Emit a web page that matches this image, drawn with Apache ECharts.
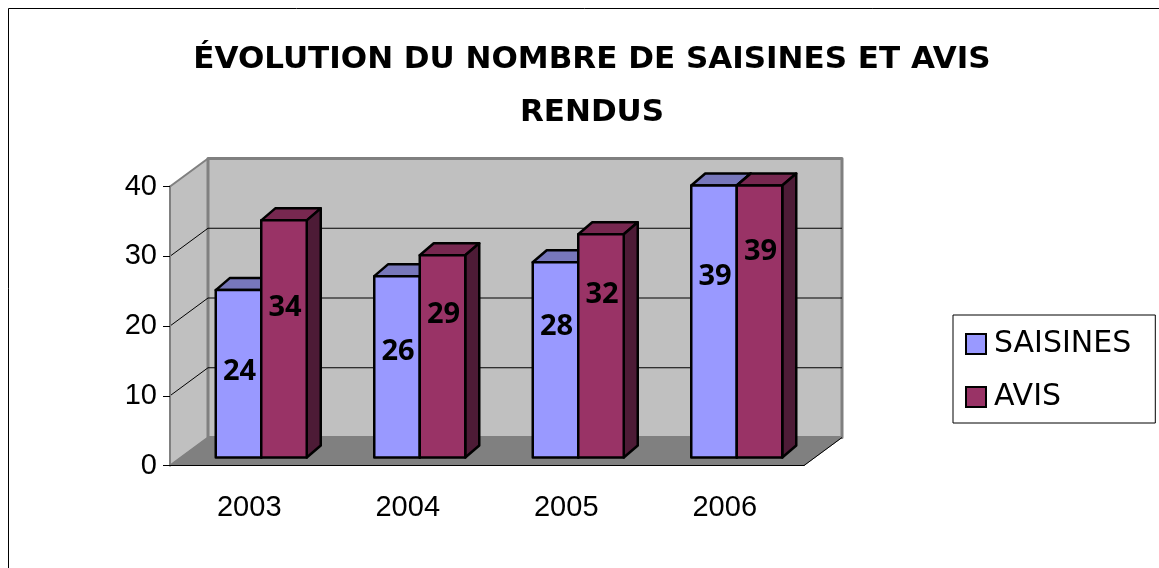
<!DOCTYPE html>
<html>
<head>
<meta charset="utf-8">
<title>Saisines et avis</title>
<script src="https://cdn.jsdelivr.net/npm/echarts@6/dist/echarts.min.js"></script>
<style>
html, body { margin: 0; padding: 0; background: #fff; overflow: hidden; }
#chart { width: 1159px; height: 568px; }
</style>
</head>
<body>
<div id="chart"></div>
<script>
// ------------------ data ------------------
var years = ['2003', '2004', '2005', '2006'];
var saisines = [24, 26, 28, 39];
var avis = [34, 29, 32, 39];
var wallTicks = [10, 20, 30, 40];

// ------------------ 3d look (pixels) ------------------
var WALL_DX = 38, WALL_DY = -28;   // depth of the box
var BAR_DX = 12, BAR_DY = -8;      // bars stand a bit behind the front plane
var DEPTH_DX = 14, DEPTH_DY = -12; // depth of one bar
var BAR_W = 45.5;
var LABEL_FONT = 'bold 29px "Noto Sans"';
// the labels were placed by hand in the original, distance below the bar top
var labelDown = {
    SAISINES: [82, 76, 65, 91],
    AVIS: [87, 60, 60, 66]
};

function poly(points, fill, stroke, lineWidth) {
    return {
        type: 'polygon',
        shape: {points: points},
        style: {fill: fill, stroke: stroke, lineWidth: lineWidth, lineJoin: 'round'}
    };
}

function line(x1, y1, x2, y2, color, width) {
    return {
        type: 'line',
        shape: {x1: x1, y1: y1, x2: x2, y2: y2},
        style: {stroke: color, lineWidth: width}
    };
}

// back wall, side wall, floor and the grid lines on them
function renderWalls(params, api) {
    var c = params.coordSys;
    var left = c.x, right = c.x + c.width, top = c.y, bottom = c.y + c.height;
    var children = [
        poly([[left, top], [left + WALL_DX, top + WALL_DY], [left + WALL_DX, bottom + WALL_DY], [left, bottom]], '#c0c0c0', '#808080', 2),
        poly([[left + WALL_DX, top + WALL_DY], [right + WALL_DX, top + WALL_DY], [right + WALL_DX, bottom + WALL_DY], [left + WALL_DX, bottom + WALL_DY]], '#c0c0c0', '#808080', 3),
        poly([[left, bottom], [left + WALL_DX, bottom + WALL_DY], [right + WALL_DX, bottom + WALL_DY], [right, bottom]], '#808080', '#808080', 1),
        line(right, bottom, right + WALL_DX, bottom + WALL_DY, '#000', 1)
    ];
    wallTicks.forEach(function (t) {
        if (t === 40) return;
        var y = api.coord([0, t])[1];
        children.push(line(left, y, left + WALL_DX, y + WALL_DY, '#000', 1));
        children.push(line(left + WALL_DX, y + WALL_DY, right + WALL_DX, y + WALL_DY, '#000', 1));
    });
    return {type: 'group', children: children};
}

function barRenderer(name, side, front, topFace, sideFace) {
    return function (params, api) {
        var i = api.value(0);
        var p = api.coord([i, api.value(1)]);
        var base = api.coord([i, 0]);
        var x0 = p[0] + BAR_DX + (side < 0 ? -BAR_W : 0);
        var x1 = x0 + BAR_W;
        var y0 = p[1] + BAR_DY;
        var y1 = base[1] + BAR_DY;
        return {
            type: 'group',
            children: [
                poly([[x0, y0], [x0 + DEPTH_DX, y0 + DEPTH_DY], [x1 + DEPTH_DX, y0 + DEPTH_DY], [x1, y0]], topFace, '#000', 2.5),
                poly([[x1, y0], [x1 + DEPTH_DX, y0 + DEPTH_DY], [x1 + DEPTH_DX, y1 + DEPTH_DY], [x1, y1]], sideFace, '#000', 2.5),
                poly([[x0, y0], [x1, y0], [x1, y1], [x0, y1]], front, '#000', 2.5),
                {
                    type: 'text',
                    z2: 10,
                    style: {
                        text: String(api.value(1)),
                        x: (x0 + x1) / 2 + 1,
                        y: y0 + labelDown[name][i],
                        align: 'center',
                        verticalAlign: 'middle',
                        font: LABEL_FONT,
                        fill: '#000'
                    }
                }
            ]
        };
    };
}

function toPoints(values) {
    return values.map(function (v, i) { return [i, v]; });
}

var myChart = echarts.init(document.getElementById('chart'));

var option = {
    backgroundColor: '#fff',
    animation: false,
    title: {
        text: 'ÉVOLUTION DU NOMBRE DE SAISINES ET AVIS\nRENDUS',
        left: 587,
        top: 28,
        textAlign: 'center',
        textStyle: {
            fontFamily: 'DejaVu Sans',
            fontWeight: 'bold',
            fontSize: 31,
            lineHeight: 53,
            color: '#000'
        }
    },
    legend: {
        data: ['SAISINES', 'AVIS'],
        orient: 'vertical',
        left: 953,
        top: 315,
        icon: 'rect',
        itemWidth: 20,
        itemHeight: 20,
        itemGap: 23,
        padding: [14, 24, 11, 12],
        borderColor: '#000',
        borderWidth: 1,
        backgroundColor: '#fff',
        itemStyle: {borderColor: '#000', borderWidth: 2},
        textStyle: {fontFamily: 'DejaVu Sans', fontSize: 30, color: '#000', padding: [0, 0, 0, 3]}
    },
    grid: {left: 170, right: 355, top: 186.5, height: 279},
    xAxis: {
        type: 'category',
        data: years,
        z: 5,
        axisLine: {lineStyle: {color: '#000', width: 1}},
        axisTick: {length: 8, lineStyle: {color: '#000'}},
        axisLabel: {margin: 28, fontFamily: 'Liberation Sans', fontSize: 29, color: '#000'}
    },
    yAxis: {
        type: 'value',
        min: 0,
        max: 40,
        interval: 10,
        z: 5,
        axisLine: {show: true, lineStyle: {color: '#808080', width: 2}},
        axisTick: {show: true, length: 7, lineStyle: {color: '#000'}},
        axisLabel: {margin: 13, fontFamily: 'Liberation Sans', fontSize: 29, color: '#000'},
        splitLine: {show: false}
    },
    series: [
        {
            type: 'custom',
            name: 'walls',
            silent: true,
            z: 1,
            clip: false,
            data: [[0, 0]],
            renderItem: renderWalls
        },
        {
            type: 'custom',
            name: 'SAISINES',
            z: 2,
            clip: false,
            itemStyle: {color: '#9999ff'},
            data: toPoints(saisines),
            renderItem: barRenderer('SAISINES', -1, '#9999ff', '#7777bb', '#5a5a99')
        },
        {
            type: 'custom',
            name: 'AVIS',
            z: 3,
            clip: false,
            itemStyle: {color: '#993366'},
            data: toPoints(avis),
            renderItem: barRenderer('AVIS', 1, '#993366', '#772850', '#4d1b36')
        }
    ],
    graphic: [{
        type: 'rect',
        shape: {x: 8.5, y: 8.5, width: 1300, height: 700},
        style: {fill: 'none', stroke: '#000', lineWidth: 1},
        silent: true
    }]
};
myChart.setOption(option);
</script>
</body>
</html>
